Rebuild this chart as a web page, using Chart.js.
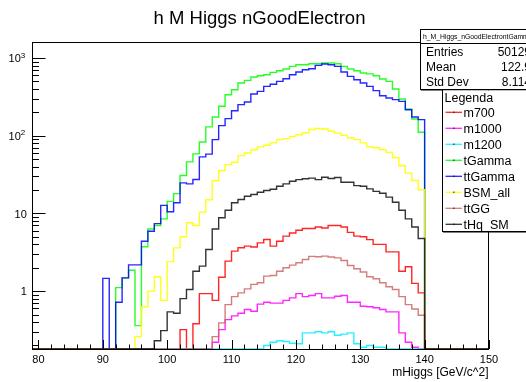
<!DOCTYPE html>
<html lang="en">
<head>
<meta charset="UTF-8">
<title>h M Higgs nGoodElectron</title>
<script src="https://cdn.jsdelivr.net/npm/chart.js"></script>
<style>
    body { margin: 0; background: #fff; }
    canvas { display: block; }
</style>
</head>
<body>
<canvas id="grafico" width="526" height="382"></canvas>
<script>

    // bins de 1 GeV, o primeiro comeca em 90
    const primeiroBin = 90;

    const m700 = [
        0, 0, 0, 0, 0, 0, 0, 0, 0, 0, 0, 0,
        0.32, 0, 0.38, 0.93, 0.93, 0.76, 1.51, 2.43, 3.27, 3.61, 3.79, 3.7, 4.18, 4.62, 3.79, 4.39,
        5.1, 5.6, 6.08, 6.4, 6.4, 6.7, 6.5, 7.0, 7.0, 6.7, 5.7, 5.1, 5.0, 4.6, 4.0, 4.0, 3.2, 3.2,
        1.8, 2.06, 1.26, 0.95
    ];
    const m1000 = [
        0, 0, 0, 0, 0, 0, 0, 0, 0, 0, 0, 0, 0, 0, 0, 0, 0,
        0.22, 0.32, 0.43, 0.48, 0.52, 0.58, 0.55, 0.68, 0.72, 0.70, 0.70, 0.76, 0.82, 0.93, 0.85,
        0.88, 0.93, 0.82, 0.82, 0.86, 0.88, 0.72, 0.72, 0.64, 0.63, 0.61, 0.58, 0.54, 0.54, 0.29,
        0.22, 0.19, 0
    ];
    const m1200 = [
        0, 0, 0, 0, 0, 0, 0, 0, 0, 0, 0, 0, 0, 0, 0, 0, 0, 0, 0, 0, 0, 0, 0, 0, 0,
        0.20, 0.22, 0.23, 0.225, 0.213, 0.21, 0.29, 0.29, 0.30, 0.29, 0.30, 0.27, 0.28, 0.29, 0.21,
        0.19, 0.20, 0.19, 0.19, 0, 0, 0, 0, 0, 0
    ];
    const tGamma = [
        0, 0, 1.11, 1.48, 1.86, 0.36, 3.72, 6.3, 7.0, 8.5, 14.3, 18, 30.7, 46, 58.3, 83, 130,
        174, 239, 337, 391, 477, 515, 570, 592, 610, 653, 687, 722, 780, 820, 820, 845, 845, 863,
        863, 845, 780, 722, 687, 641, 624, 592, 537, 500, 400, 297, 221, 164, 111
    ];
    const ttGamma = [
        1.46, 0, 0.72, 1.48, 2.18, 2.18, 4.39, 5.9, 7.4, 12.7, 10.5, 13.7, 24.7, 24.0, 27.3, 53.4, 58,
        89, 135, 166, 210, 251, 272, 344, 372, 432, 460, 500, 542, 610, 661, 707, 728, 803, 837,
        820, 780, 661, 580, 526, 477, 432, 380, 327, 306, 291, 277, 216, 174, 161
    ];
    const bsmAll = [
        0, 0, 0, 0, 0,
        0.26, 0.63, 1.0, 1.53, 0.76, 2.4, 3.6, 5.0, 7.6, 7.0, 10.4, 15,
        26.5, 35.6, 42.5, 45.5, 55.5, 60, 66, 71.8, 75.3, 80.8, 89, 91.8, 98, 103, 109, 120, 124, 122,
        114, 108, 101, 93.5, 89, 81, 72, 70, 66, 61, 52, 41, 33, 26.5, 20.2
    ];
    const ttGG = [
        0, 0, 0, 0, 0, 0, 0, 0, 0, 0, 0, 0, 0, 0, 0, 0, 0,
        0.26, 0.39, 0.67, 0.85, 0.95, 1.07, 1.22, 1.28, 1.56, 1.59, 1.8, 2.0, 2.16, 2.32, 2.55,
        2.8, 2.77, 2.82, 2.75, 2.68, 2.48, 2.14, 1.94, 1.76, 1.53, 1.44, 1.28, 1.14, 1.05, 0.85,
        0.67, 0.59, 0.49
    ];
    const tHqSM = [
        0, 0, 0, 0, 0, 0, 0, 0,
        0.23, 0.31, 0.54, 0.52, 0.80, 1.05, 1.8, 2.1, 3.43,
        6.3, 8.8, 11, 13.7, 15.1, 16.6, 17.5, 18.7, 19.7, 20.5,
        22.4, 24, 25.9, 27.2, 28, 28.5, 27.2, 29.2, 28.2, 29,
        25.2, 25.2, 22.8, 22.4, 20.7, 19.2, 18.2, 16.2, 13.9, 11,
        8.5, 6.7, 4.75
    ];

    const nomes = ['m700', 'm1000', 'm1200', 'tGamma', 'ttGamma', 'BSM_all', 'ttGG', 'tHq_SM'];
    const cores = [
        'rgba(255,0,0,0.85)', 'rgba(255,0,255,0.85)', 'rgba(0,240,255,0.85)', 'rgba(0,255,0,0.85)',
        'rgba(0,0,255,0.85)', 'rgba(255,255,0,0.9)', 'rgba(204,102,102,0.85)', 'rgba(0,0,0,0.8)'
    ];

    const rotulosX = [80, 90, 100, 110, 120, 130, 140, 150];
    const ticksY = [1, 10, 100, 1000];
    const expoentesY = ['', '', '2', '3'];

    const estatisticas = [['Entries', '50129'], ['Mean', '122.9'], ['Std Dev', '8.114']];

    const xMin = 79, xMax = 150;
    const yMin = 0.18, yMax = 1607;

    // bins vazios ficam no chao do eixo log
    function montaSerie(valores) {
        const pontos = [{ x: xMin, y: yMin }];
        valores.forEach((v, i) => pontos.push({ x: primeiroBin + i, y: v > 0 ? v : yMin }));
        pontos.push({ x: primeiroBin + valores.length, y: yMin });
        pontos.push({ x: xMax, y: yMin });
        return pontos;
    }

    const series = [m700, m1000, m1200, tGamma, ttGamma, bsmAll, ttGG, tHqSM];

    const fonte = '"Liberation Sans", Arial, sans-serif';

    const eixosRoot = {
        id: 'eixosRoot',
        beforeDraw(chart) {
            const ctx = chart.ctx;
            ctx.save();
            ctx.fillStyle = '#fff';
            ctx.fillRect(0, 0, chart.width, chart.height);
            ctx.restore();
        },
        afterDraw(chart) {
            const ctx = chart.ctx;
            const a = chart.chartArea;
            const x = chart.scales.x;
            const y = chart.scales.y;

            ctx.save();
            ctx.strokeStyle = '#000';
            ctx.lineWidth = 1;
            ctx.strokeRect(a.left + 0.5, a.top + 0.5, a.right - a.left - 1, a.bottom - a.top);

            // ticks para dentro, estilo ROOT
            ctx.beginPath();
            for (let v = 80; v <= xMax; v += 2) {
                const px = Math.round(x.getPixelForValue(v)) + 0.5;
                const len = v % 10 === 0 ? 9 : 4.5;
                ctx.moveTo(px, a.bottom);
                ctx.lineTo(px, a.bottom - len);
            }
            for (let d = -1; d <= 3; d++) {
                for (let m = 1; m <= 9; m++) {
                    const v = m * Math.pow(10, d);
                    if (v < yMin || v > yMax) continue;
                    const py = Math.round(y.getPixelForValue(v)) + 0.5;
                    ctx.moveTo(a.left, py);
                    ctx.lineTo(a.left + (m === 1 ? 13.5 : 7), py);
                }
            }
            ctx.stroke();

            ctx.fillStyle = '#000';
            ctx.font = '11px ' + fonte;
            ctx.textAlign = 'center';
            rotulosX.forEach((v) => {
                ctx.fillText(String(v), x.getPixelForValue(v), 362.5);
            });

            ctx.textAlign = 'right';
            ticksY.forEach((v, i) => {
                const py = y.getPixelForValue(v);
                const exp = expoentesY[i];
                if (exp) {
                    ctx.font = '8px ' + fonte;
                    ctx.fillText(exp, 25.3, py - 0.5);
                    const w = ctx.measureText(exp).width;
                    ctx.font = '11px ' + fonte;
                    ctx.fillText('10', 25.3 - w, py + 4.2);
                } else {
                    ctx.font = '11px ' + fonte;
                    ctx.fillText(String(v), 26.8, py + 4.2);
                }
            });

            ctx.font = '12px ' + fonte;
            ctx.fillText('mHiggs [GeV/c^2]', 488.5, 376);

            ctx.textAlign = 'center';
            ctx.font = '18.5px ' + fonte;
            ctx.fillText('h M Higgs nGoodElectron', 259.5, 23.5);

            // caixa de estatisticas
            ctx.fillStyle = '#fff';
            ctx.fillRect(420, 29, 120, 60);
            ctx.strokeRect(420.5, 29.5, 120, 60);
            ctx.beginPath();
            ctx.moveTo(420, 43.5);
            ctx.lineTo(540, 43.5);
            ctx.stroke();
            ctx.fillStyle = '#000';
            ctx.fillRect(421, 89, 120, 1.5);

            ctx.textAlign = 'left';
            ctx.font = '6.8px ' + fonte;
            ctx.fillText('h_M_Higgs_nGoodElectrontGamma', 423, 38.5);
            ctx.font = '12px ' + fonte;
            estatisticas.forEach((linha, i) => {
                const base = 56 + i * 15;
                ctx.textAlign = 'left';
                ctx.fillText(linha[0], 426, base);
                ctx.textAlign = 'right';
                ctx.fillText(linha[1], 531, base);
            });

            // legenda
            ctx.fillStyle = '#fff';
            ctx.fillRect(442, 90.5, 100, 141);
            ctx.strokeRect(442.5, 89.5, 100, 142);
            ctx.fillStyle = '#000';
            ctx.fillRect(443, 231, 100, 1.5);

            ctx.textAlign = 'left';
            ctx.font = '12.5px ' + fonte;
            ctx.fillText('Legenda', 444.5, 101.5);
            nomes.forEach((nome, i) => {
                const cy = 112.3 + i * 16;
                ctx.strokeStyle = cores[i];
                ctx.lineWidth = 1.3;
                ctx.beginPath();
                ctx.moveTo(445.5, cy);
                ctx.lineTo(462, cy);
                ctx.stroke();
                ctx.fillStyle = 'rgba(0,0,0,0.55)';
                ctx.fillRect(453, cy - 0.8, 1.6, 1.6);
                ctx.fillStyle = '#000';
                ctx.fillText(nome, 463.5, cy + 4.5);
            });

            ctx.restore();
        }
    };

    new Chart(document.getElementById('grafico'), {
        type: 'line',
        data: {
            datasets: series.map((valores, i) => ({
                label: nomes[i],
                data: montaSerie(valores),
                borderColor: cores[i],
                backgroundColor: cores[i],
                borderWidth: 1.4,
                stepped: true,
                pointRadius: 0,
                fill: false,
                order: series.length - i
            }))
        },
        options: {
            responsive: false,
            animation: false,
            devicePixelRatio: 1,
            events: [],
            layout: { padding: { left: 32, top: 42, right: 37, bottom: 33 } },
            plugins: {
                legend: { display: false },
                title: { display: false },
                tooltip: { enabled: false }
            },
            scales: {
                x: { type: 'linear', min: xMin, max: xMax, display: false },
                y: { type: 'logarithmic', min: yMin, max: yMax, display: false }
            }
        },
        plugins: [eixosRoot]
    });

</script>
</body>
</html>
